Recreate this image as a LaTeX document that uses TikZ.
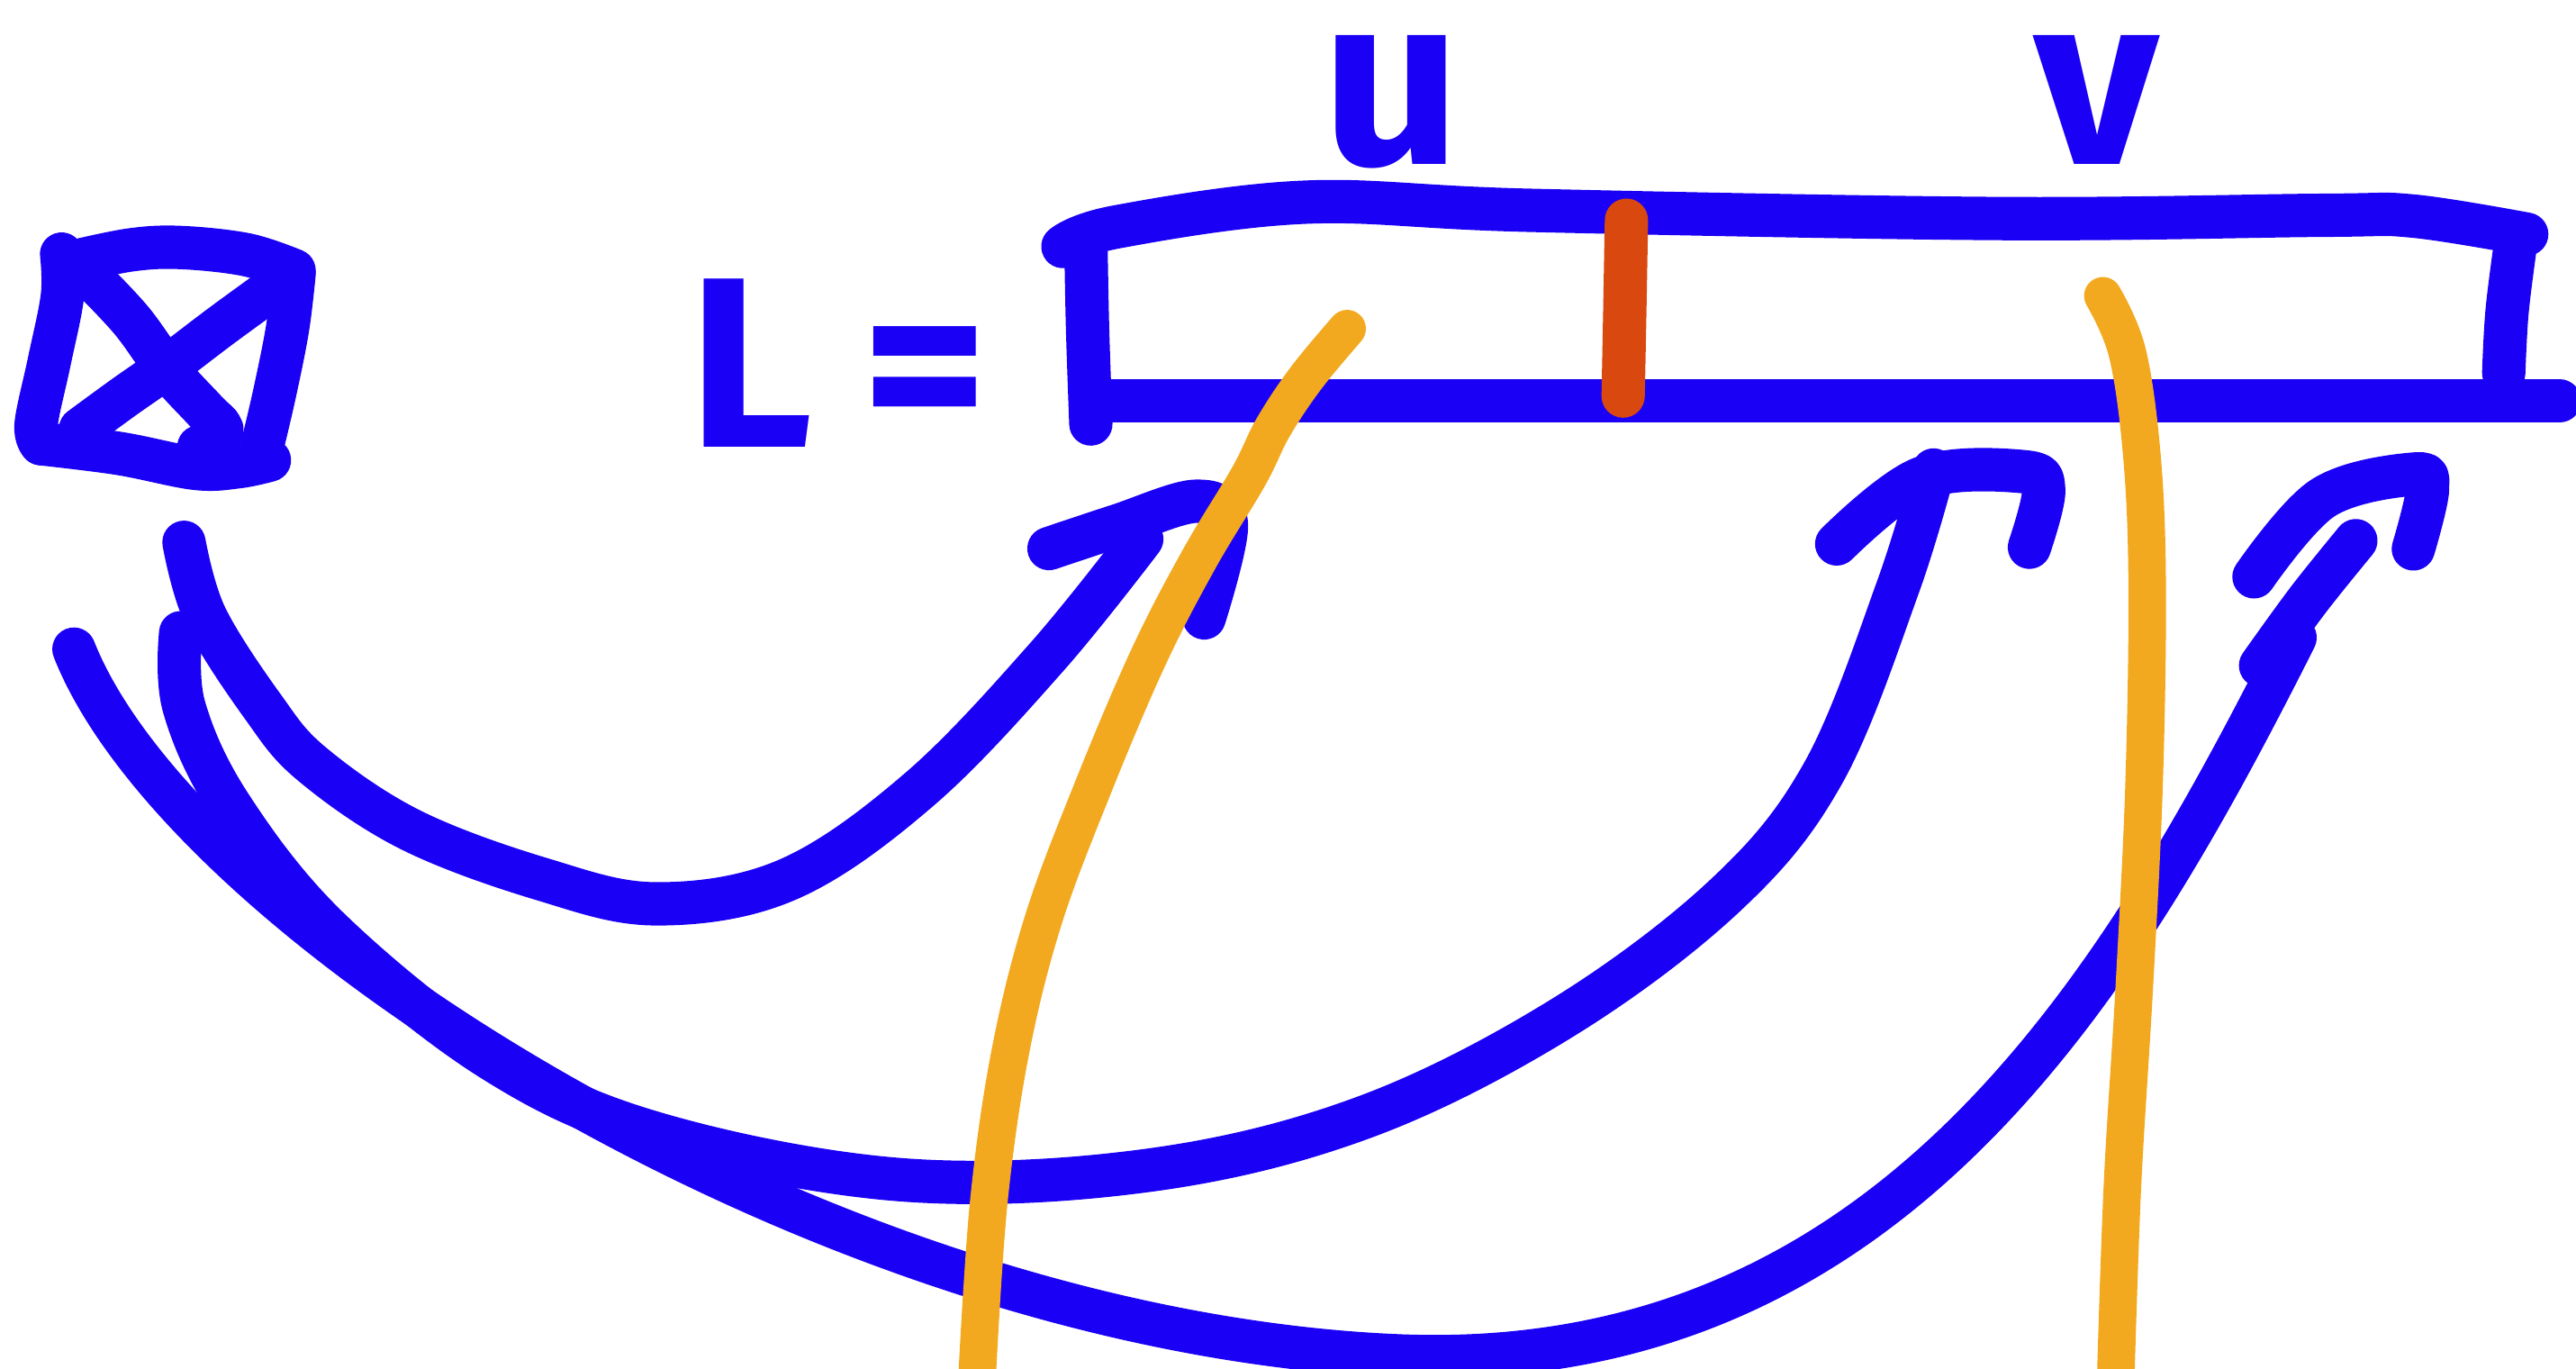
\documentclass[tikz,border=0pt]{standalone}
\usepackage{fontspec}
\setsansfont{Fira Sans}
\definecolor{inkblue}{RGB}{26,0,245}
\definecolor{inkorange}{RGB}{242,169,31}
\definecolor{inkred}{RGB}{217,72,15}
\begin{document}
\begin{tikzpicture}[x=0.01cm,y=-0.01cm,
  bluestroke/.style={line width=7.5pt, line cap=round, line join=round, draw=inkblue},
  orangestroke/.style={line width=6.5pt, line cap=round, line join=round, draw=inkorange},
  redstroke/.style={line width=7.5pt, line cap=round, line join=round, draw=inkred},
  lbl/.style={text=inkblue, font=\sffamily\bfseries\fontsize{42}{50}\selectfont, inner sep=0pt, anchor=base}]
\useasboundingbox (0,0) rectangle (1568,833);
% crossed box
\draw[bluestroke] plot[smooth,tension=0.6] coordinates {(37.5,154.6) (38,180) (30,220) (22,258) (25,270)};
\draw[bluestroke] plot[smooth,tension=0.6] coordinates {(45.7,159) (80,152) (110,150.6) (150,155) (179,164.6)};
\draw[bluestroke] plot[smooth,tension=0.6] coordinates {(179,166.5) (175,200) (167,240) (159,274)};
\draw[bluestroke] plot[smooth,tension=0.6] coordinates {(25,270) (73,276) (119,285) (145,284) (164,280)};
\draw[bluestroke] plot[smooth,tension=0.6] coordinates {(54.8,168.3) (80,195) (102,225) (125,250) (135,261) (130,270) (121,272)};
\draw[bluestroke] plot[smooth,tension=0.6] coordinates {(49,261) (75,242) (102,223) (135,198) (168,174)};
% labels
\node[lbl] (Lchar) at (457,272) {L};
\node[lbl] (eq) at (563,272) {=};
\node[lbl] (uchar) at (847,100) {u};
\node[lbl] (vchar) at (1276,100) {v};
% list rectangle
\draw[bluestroke] plot[smooth,tension=0.6] coordinates {(647,150) (680,138) (795,123) (932,128) (1218,133) (1414,131) (1469,131.5) (1538,142.5)};
\draw[bluestroke] plot[smooth,tension=0.6] coordinates {(661,148) (662,200) (664,258)};
\draw[bluestroke] (670,244) -- (1558,244);
\draw[bluestroke] plot[smooth,tension=0.6] coordinates {(1531,150) (1526,190) (1524,227)};
% arrows
\coordinate (a1s) at (112,330);
\coordinate (a1e) at (695,328);
\coordinate (a2s) at (110,385);
\coordinate (a2e) at (1177,286);
\coordinate (a3s) at (45,395);
\coordinate (a3m) at (850,825);
\coordinate (a3e) at (1397,388);
\draw[bluestroke] plot[smooth,tension=0.6] coordinates {(a1s) (125,375) (160,430) (190,465) (250,505) (330,535) (400,550) (480,535) (560,480) (637,400) (a1e)};
\draw[bluestroke] plot[smooth,tension=0.6] coordinates {(638.5,333.8) (680,320) (728,305) (746.5,319) (733,376)};
\draw[bluestroke] plot[smooth,tension=0.6] coordinates {(a2s) (112,430) (140,490) (200,565) (300,645) (400,690) (550,718) (700,712) (830,680) (950,620) (1050,545) (1110,470) (1155,358) (a2e)};
\draw[bluestroke] plot[smooth,tension=0.6] coordinates {(1118,331) (1169.6,291) (1231.5,287) (1244,298) (1235.3,333)};
\draw[bluestroke] (a3s) .. controls (110,560) and (500,810) .. (a3m)
                        .. controls (1150,838) and (1290,600) .. (a3e);
\draw[bluestroke] plot[smooth,tension=0.6] coordinates {(1376,405) (1405,365) (1434,329)};
\draw[bluestroke] plot[smooth,tension=0.6] coordinates {(1372,351) (1414,303) (1469,288.5) (1477.6,297.6) (1469,334)};
% orange strokes
\draw[orangestroke] plot[smooth,tension=0.6] coordinates {(820,200) (795,230) (775,260) (760,290) (730,340) (699,400) (665,480) (635,560) (615,640) (602,730) (595,833)};
\draw[orangestroke] plot[smooth,tension=0.6] coordinates {(1280,180) (1295,215) (1304,280) (1307,360) (1305,480) (1299,603) (1292,720) (1288,833)};
% red divider
\draw[redstroke] (990,134) -- (989,190) -- (988,241);
\end{tikzpicture}
\end{document}
